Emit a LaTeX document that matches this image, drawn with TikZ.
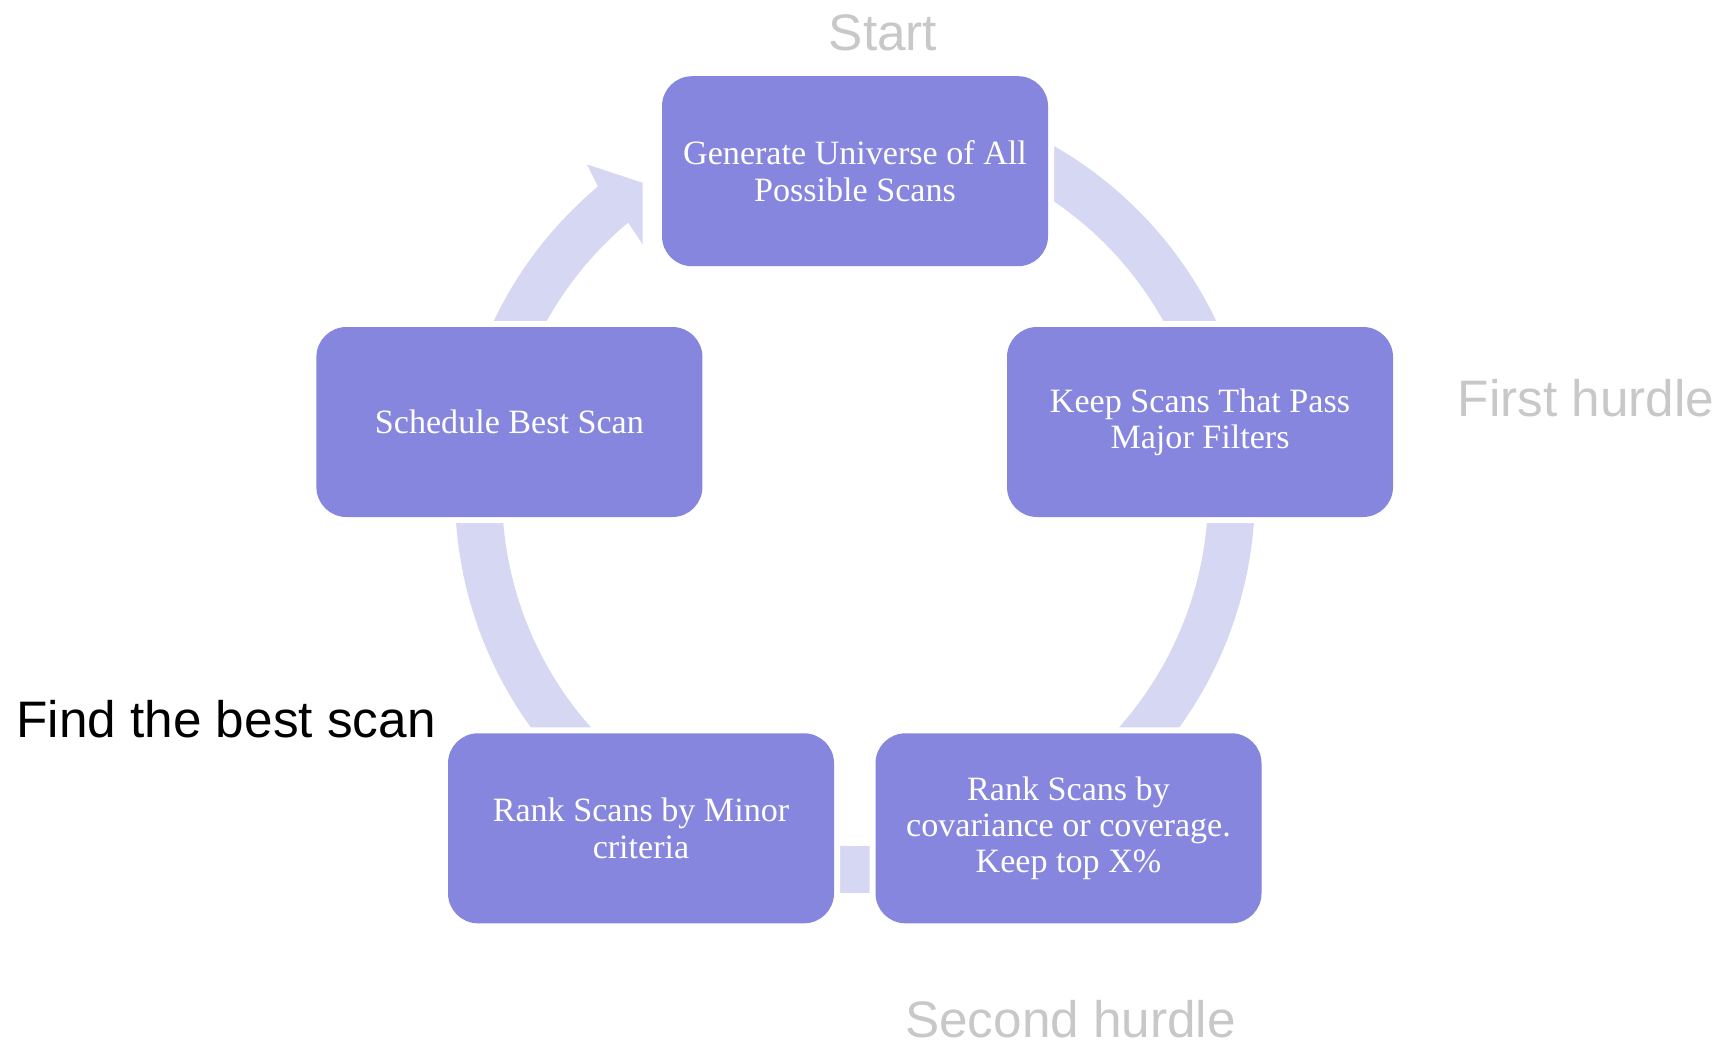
\documentclass[tikz,border=0pt]{standalone}
\usepackage{fontspec}
\setmainfont{Liberation Serif}
\newfontfamily\hurdlefont{Liberation Sans}
\usetikzlibrary{calc}
\definecolor{stagefill}{RGB}{134,134,222}
\definecolor{ringfill}{RGB}{214,215,243}
\definecolor{hurdlegray}{RGB}{200,200,200}
\begin{document}
\begin{tikzpicture}[every node/.style={font=\fontsize{9.7pt}{10.3pt}\selectfont},
  stage/.style={fill=stagefill, preaction={draw=white, line width=1.2mm}, rounded corners=3mm, minimum width=3.86cm, minimum height=1.9cm, text=white, align=center, inner sep=0pt},
  hurdle/.style={font=\hurdlefont\fontsize{14.6pt}{17pt}\selectfont, text=hurdlegray, anchor=base, inner sep=0pt}]
\useasboundingbox (0,0) rectangle (17.36,10.47);
\coordinate (ctr) at (8.55,5.54);
% ring with its head, boxes cut it open
\fill[ringfill] ($(ctr)+(129.2:4.24)$) -- ($(ctr)+(130:4)$) arc[start angle=130, end angle=460, radius=4]
  -- ($(ctr)+(100:3.53)$) arc[start angle=460, end angle=130, radius=3.53]
  -- ($(ctr)+(130.5:3.27)$) -- ($(ctr)+(124.4:3.76)$) -- cycle;
\node[stage] (gen) at (8.55,8.758) {Generate Universe of All\\Possible Scans};
\node[stage] (keep) at (12.00,6.25) {Keep Scans That Pass\\Major Filters};
\node[stage] (cov) at (10.685,2.187) {Rank Scans by\\covariance or coverage.\\Keep top X\%};
\node[stage] (minor) at (6.41,2.187) {Rank Scans by Minor\\criteria};
\node[stage] (sched) at (5.094,6.25) {Schedule Best Scan};
\node[hurdle] (start) at (8.83,9.96) {Start};
\node[hurdle] (first) at (15.86,6.305) {First hurdle};
\node[hurdle] (second) at (10.705,0.1) {Second hurdle};
\node[hurdle, text=black] (goal) at (2.26,3.097) {Find the best scan};
\end{tikzpicture}
\end{document}
